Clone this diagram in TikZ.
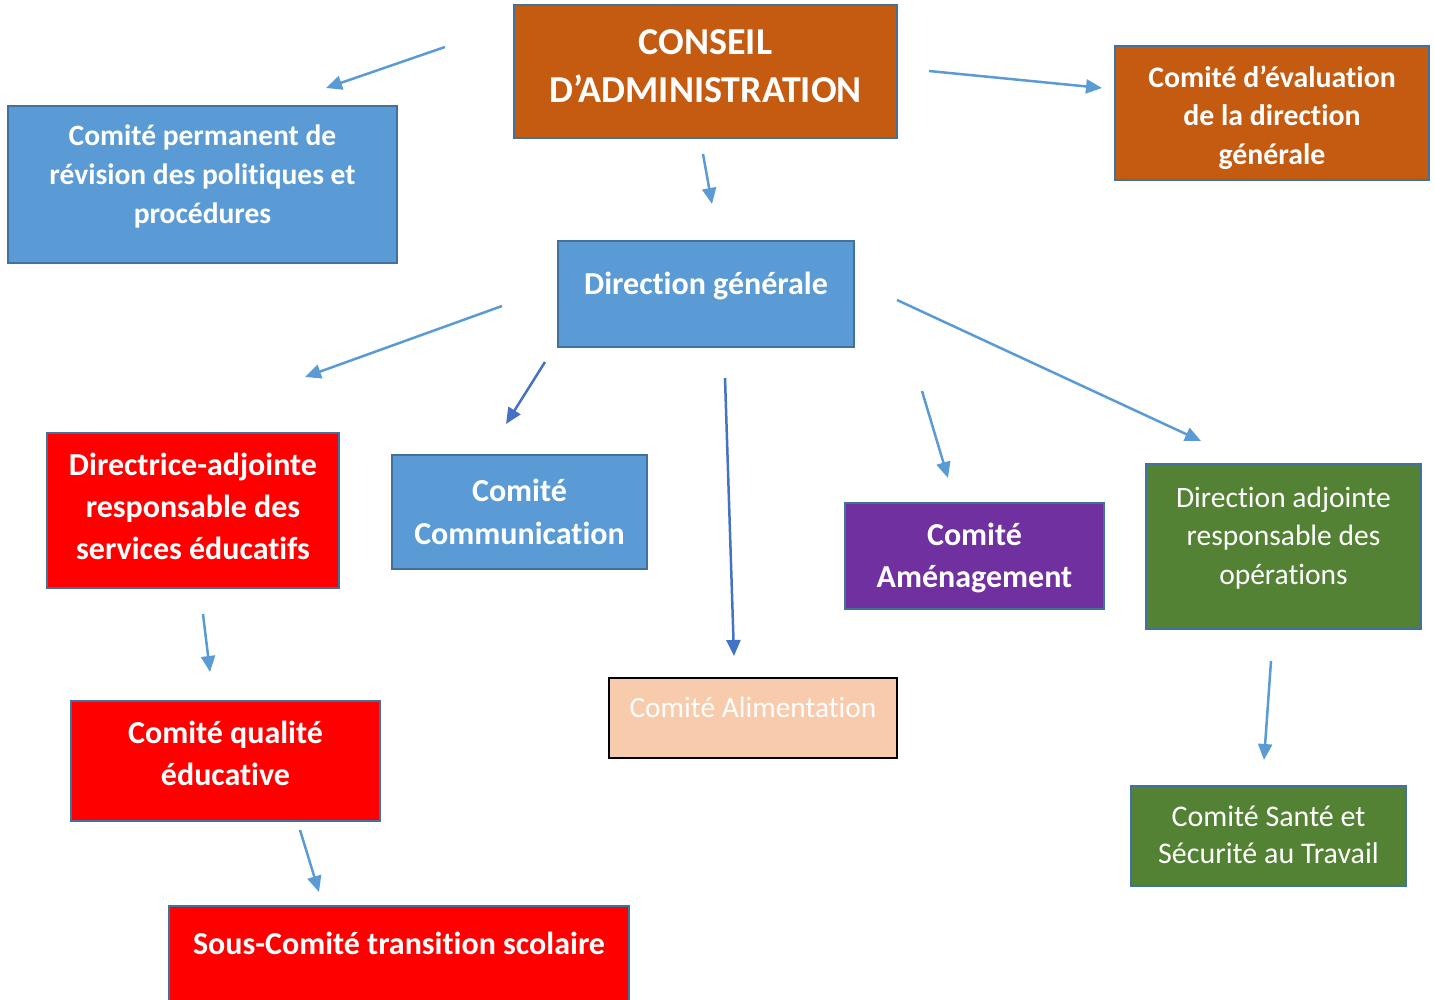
\documentclass[tikz,border=0pt]{standalone}
\usepackage{fontspec}
\setmainfont{Carlito}[Ligatures=NoCommon]
\usetikzlibrary{arrows.meta}
\definecolor{bleu}{HTML}{5B9BD5}
\definecolor{bleufonce}{HTML}{4472C4}
\definecolor{contour}{HTML}{41719C}
\definecolor{orange}{HTML}{C55A11}
\definecolor{rouge}{HTML}{FF0000}
\definecolor{violet}{HTML}{7030A0}
\definecolor{vert}{HTML}{548235}
\definecolor{peche}{HTML}{F8CBAD}

\begin{document}
\begin{tikzpicture}[x=0.5pt, y=-0.5pt,
  box/.style = {draw=contour, line width=1pt, inner sep=0pt},
  txt/.style = {text=white, align=center, inner sep=0pt},
  fleche/.style = {line width=1.25pt, -{Triangle[length=8pt, width=7pt]}, draw=bleu},
  fleche2/.style = {fleche, draw=bleufonce}]

\useasboundingbox (0,0) rectangle (1435,1000);

%% boxes
\node[box, fill=orange, minimum width=191.5pt, minimum height=66.5pt] (conseil) at (705.5, 71.5) {};
\node[box, fill=orange, minimum width=157pt, minimum height=67pt] (evaluation) at (1272, 113) {};
\node[box, fill=bleu, minimum width=194.5pt, minimum height=78.5pt] (permanent) at (202.5, 184.5) {};
\node[box, fill=bleu, minimum width=148pt, minimum height=53pt] (dg) at (706, 294) {};
\node[box, fill=rouge, minimum width=146pt, minimum height=77.5pt] (directrice) at (193, 510.5) {};
\node[box, fill=bleu, minimum width=127.5pt, minimum height=57pt] (communication) at (519.5, 512) {};
\node[box, fill=violet, minimum width=129.5pt, minimum height=53pt] (amenagement) at (974.5, 556) {};
\node[box, fill=vert, minimum width=137.5pt, minimum height=82.5pt] (operations) at (1283.5, 546.5) {};
\node[box, draw=black, fill=peche, minimum width=144pt, minimum height=40pt] (alimentation) at (753, 718) {};
\node[box, fill=rouge, minimum width=154.5pt, minimum height=60pt] (qualite) at (225.5, 761) {};
\node[box, fill=vert, minimum width=137.5pt, minimum height=50pt] (sante) at (1268.5, 836) {};
\node[box, fill=rouge, minimum width=230pt, minimum height=60pt] (sous) at (399, 966) {};

%% texts
\node[txt, font=\fontsize{19}{24}\selectfont\bfseries] (conseil-t) at (705.5, 66)
  {CONSEIL\\D’ADMINISTRATION};
\node[txt, font=\fontsize{14.9}{19.25}\selectfont\bfseries] (evaluation-t) at (1272, 117.5)
  {Comité d’évaluation\\de la direction\\générale};
\node[txt, font=\fontsize{14.75}{19.5}\selectfont\bfseries] (permanent-t) at (202.5, 176)
  {Comité permanent de\\révision des politiques et\\procédures};
\node[txt, font=\fontsize{16}{21}\selectfont\bfseries] (dg-t) at (706, 286)
  {Direction générale};
\node[txt, font=\fontsize{16}{21}\selectfont\bfseries] (directrice-t) at (193, 506)
  {Directrice-adjointe\\responsable des\\services éducatifs};
\node[txt, font=\fontsize{16}{21.5}\selectfont\bfseries] (communication-t) at (519.5, 512)
  {Comité\\Communication};
\node[txt, font=\fontsize{16}{21}\selectfont\bfseries] (amenagement-t) at (974.5, 558)
  {Comité\\Aménagement};
\node[txt, font=\fontsize{14.75}{19.25}\selectfont] (operations-t) at (1283.5, 538)
  {Direction adjointe\\responsable des\\opérations};
\node[txt, font=\fontsize{14.7}{18.5}\selectfont] (alimentation-t) at (753, 707)
  {Comité Alimentation};
\node[txt, font=\fontsize{16}{21}\selectfont\bfseries] (qualite-t) at (225.5, 753)
  {Comité qualité\\éducative};
\node[txt, font=\fontsize{15}{18.5}\selectfont] (sante-t) at (1268.5, 835)
  {Comité Santé et\\Sécurité au Travail};
\node[txt, font=\fontsize{16}{21}\selectfont\bfseries] (sous-t) at (399, 943)
  {Sous-Comité transition scolaire};

%% arrow ends
\coordinate (a1) at (445, 47);   \coordinate (b1) at (326, 88);
\coordinate (a2) at (929, 71);   \coordinate (b2) at (1102, 88);
\coordinate (a3) at (703, 154);  \coordinate (b3) at (712, 204);
\coordinate (a4) at (502, 306);  \coordinate (b4) at (305, 377);
\coordinate (a5) at (545, 362);  \coordinate (b5) at (506, 424);
\coordinate (a6) at (725, 378);  \coordinate (b6) at (734, 656);
\coordinate (a7) at (922, 391);  \coordinate (b7) at (948, 478);
\coordinate (a8) at (897, 300);  \coordinate (b8) at (1201, 441);
\coordinate (a9) at (203, 614);  \coordinate (b9) at (210, 672);
\coordinate (a10) at (1271, 661); \coordinate (b10) at (1264, 760);
\coordinate (a11) at (300, 830); \coordinate (b11) at (319, 892);

%%% arrows
\draw[fleche] (a1) -- (b1);
\draw[fleche] (a2) -- (b2);
\draw[fleche] (a3) -- (b3);
\draw[fleche] (a4) -- (b4);
\draw[fleche2] (a5) -- (b5);
\draw[fleche2] (a6) -- (b6);
\draw[fleche] (a7) -- (b7);
\draw[fleche] (a8) -- (b8);
\draw[fleche] (a9) -- (b9);
\draw[fleche] (a10) -- (b10);
\draw[fleche] (a11) -- (b11);

\end{tikzpicture}
\end{document}
